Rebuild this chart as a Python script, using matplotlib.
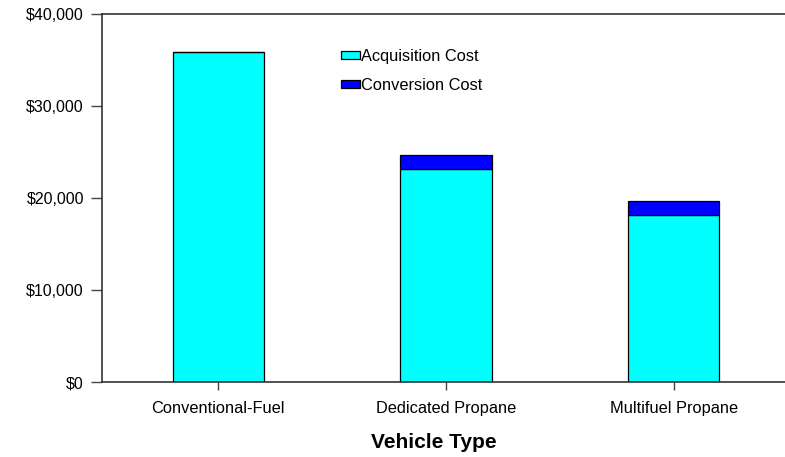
import matplotlib
matplotlib.use("Agg")
import matplotlib.pyplot as plt
from matplotlib.patches import Patch
from matplotlib.ticker import FuncFormatter

categories = ["Conventional-Fuel", "Dedicated Propane", "Multifuel Propane"]
acquisition = [35900, 23200, 18200]
conversion = [0, 1450, 1450]
yticks = [0, 10000, 20000, 30000, 40000]

plt.rcParams['font.family'] = ['Liberation Sans', 'DejaVu Sans']

W, H = 785, 457
fig = plt.figure(figsize=(W / 100, H / 100), dpi=100)
x0, x1 = 102, 790
y0, y1 = 382, 14
ax = fig.add_axes([x0 / W, 1 - y0 / H, (x1 - x0) / W, (y0 - y1) / H])

x = list(range(len(categories)))
ax.bar(x, acquisition, width=0.4, color="#00FFFF", edgecolor="black", linewidth=0.9,
       label="Acquisition Cost")
ax.bar(x, conversion, width=0.4, bottom=acquisition, color="#0000FF", edgecolor="black",
       linewidth=0.9, label="Conversion Cost")

ax.set_xlim(-0.51, 2.51)
ax.set_ylim(0, 40000)
ax.set_yticks(yticks)
ax.yaxis.set_major_formatter(FuncFormatter(lambda v, p: "${:,.0f}".format(v)))
ax.set_xticks(x)
ax.set_xticklabels(categories)
ax.tick_params(axis='y', length=8, width=1, color="#444444", labelsize=11.5, pad=5)
ax.tick_params(axis='x', length=6, width=1, color="#444444", labelsize=11.8, pad=8)
for s in ["left", "top", "bottom", "right"]:
    ax.spines[s].set_color("#333333")
    ax.spines[s].set_linewidth(1.2)

fig.text(434 / W, 1 - 443 / H, "Vehicle Type", fontsize=15, fontweight="bold",
         ha="center", va="center")

handles = [Patch(facecolor="#00FFFF", edgecolor="black", linewidth=0.9),
           Patch(facecolor="#0000FF", edgecolor="black", linewidth=0.9)]
fig.legend(handles, ["Acquisition Cost", "Conversion Cost"], loc="upper left",
           bbox_to_anchor=(341 / W, 1 - 49 / H), frameon=False, fontsize=11.8,
           handlelength=1.15, handleheight=0.4, handletextpad=0.1, labelspacing=0.85,
           borderpad=0, borderaxespad=0)

fig.savefig("out.png", dpi=100)
